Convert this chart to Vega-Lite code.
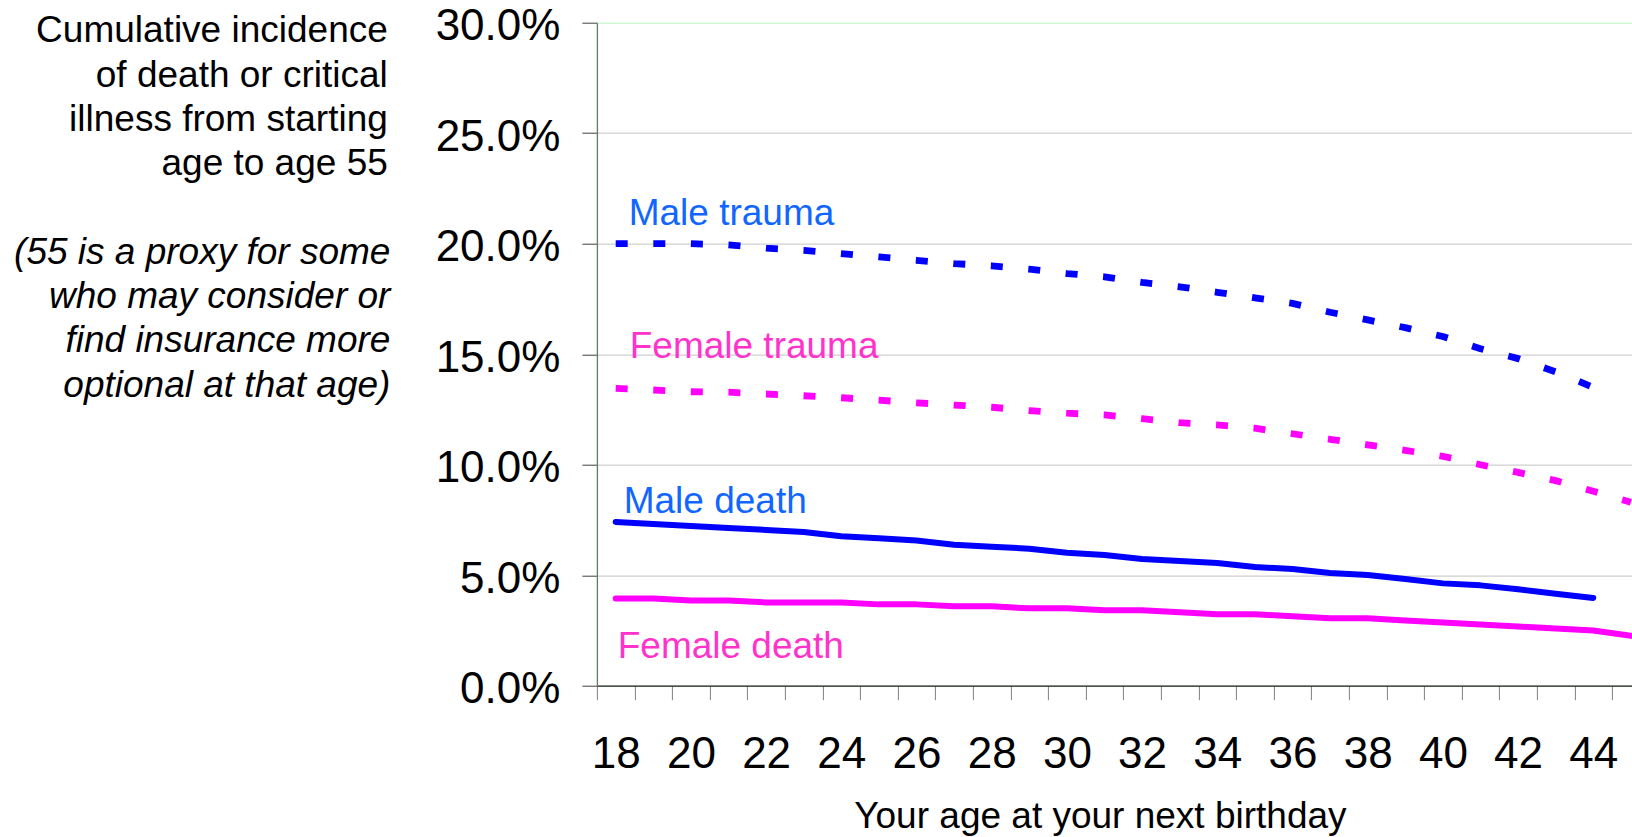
{
  "$schema": "https://vega.github.io/schema/vega-lite/v6.json",
  "width": 1035.1,
  "height": 663,
  "autosize": {"type": "none"},
  "padding": {"left": 596.9, "top": 22.7, "right": 0, "bottom": 151.3},
  "background": "white",
  "config": {"view": {"stroke": null}, "font": "Liberation Sans"},
  "datasets": {
    "lines": [
      {"age": 18, "series": "Male trauma", "value": 0.2000},
      {"age": 19, "series": "Male trauma", "value": 0.2000},
      {"age": 20, "series": "Male trauma", "value": 0.2000},
      {"age": 21, "series": "Male trauma", "value": 0.1995},
      {"age": 22, "series": "Male trauma", "value": 0.1980},
      {"age": 23, "series": "Male trauma", "value": 0.1970},
      {"age": 24, "series": "Male trauma", "value": 0.1955},
      {"age": 25, "series": "Male trauma", "value": 0.1940},
      {"age": 26, "series": "Male trauma", "value": 0.1925},
      {"age": 27, "series": "Male trauma", "value": 0.1910},
      {"age": 28, "series": "Male trauma", "value": 0.1900},
      {"age": 29, "series": "Male trauma", "value": 0.1885},
      {"age": 30, "series": "Male trauma", "value": 0.1865},
      {"age": 31, "series": "Male trauma", "value": 0.1850},
      {"age": 32, "series": "Male trauma", "value": 0.1825},
      {"age": 33, "series": "Male trauma", "value": 0.1805},
      {"age": 34, "series": "Male trauma", "value": 0.1780},
      {"age": 35, "series": "Male trauma", "value": 0.1755},
      {"age": 36, "series": "Male trauma", "value": 0.1730},
      {"age": 37, "series": "Male trauma", "value": 0.1690},
      {"age": 38, "series": "Male trauma", "value": 0.1655},
      {"age": 39, "series": "Male trauma", "value": 0.1620},
      {"age": 40, "series": "Male trauma", "value": 0.1580},
      {"age": 41, "series": "Male trauma", "value": 0.1525},
      {"age": 42, "series": "Male trauma", "value": 0.1480},
      {"age": 43, "series": "Male trauma", "value": 0.1420},
      {"age": 44, "series": "Male trauma", "value": 0.1350},
      {"age": 18, "series": "Female trauma", "value": 0.1345},
      {"age": 19, "series": "Female trauma", "value": 0.1338},
      {"age": 20, "series": "Female trauma", "value": 0.1330},
      {"age": 21, "series": "Female trauma", "value": 0.1328},
      {"age": 22, "series": "Female trauma", "value": 0.1320},
      {"age": 23, "series": "Female trauma", "value": 0.1312},
      {"age": 24, "series": "Female trauma", "value": 0.1303},
      {"age": 25, "series": "Female trauma", "value": 0.1292},
      {"age": 26, "series": "Female trauma", "value": 0.1280},
      {"age": 27, "series": "Female trauma", "value": 0.1270},
      {"age": 28, "series": "Female trauma", "value": 0.1260},
      {"age": 29, "series": "Female trauma", "value": 0.1245},
      {"age": 30, "series": "Female trauma", "value": 0.1233},
      {"age": 31, "series": "Female trauma", "value": 0.1225},
      {"age": 32, "series": "Female trauma", "value": 0.1208},
      {"age": 33, "series": "Female trauma", "value": 0.1190},
      {"age": 34, "series": "Female trauma", "value": 0.1180},
      {"age": 35, "series": "Female trauma", "value": 0.1165},
      {"age": 36, "series": "Female trauma", "value": 0.1140},
      {"age": 37, "series": "Female trauma", "value": 0.1115},
      {"age": 38, "series": "Female trauma", "value": 0.1090},
      {"age": 39, "series": "Female trauma", "value": 0.1065},
      {"age": 40, "series": "Female trauma", "value": 0.1038},
      {"age": 41, "series": "Female trauma", "value": 0.1000},
      {"age": 42, "series": "Female trauma", "value": 0.0965},
      {"age": 43, "series": "Female trauma", "value": 0.0928},
      {"age": 44, "series": "Female trauma", "value": 0.0880},
      {"age": 45, "series": "Female trauma", "value": 0.0830},
      {"age": 18, "series": "Male death", "value": 0.0741},
      {"age": 19, "series": "Male death", "value": 0.0732},
      {"age": 20, "series": "Male death", "value": 0.0723},
      {"age": 21, "series": "Male death", "value": 0.0714},
      {"age": 22, "series": "Male death", "value": 0.0705},
      {"age": 23, "series": "Male death", "value": 0.0695},
      {"age": 24, "series": "Male death", "value": 0.0676},
      {"age": 25, "series": "Male death", "value": 0.0667},
      {"age": 26, "series": "Male death", "value": 0.0657},
      {"age": 27, "series": "Male death", "value": 0.0638},
      {"age": 28, "series": "Male death", "value": 0.0629},
      {"age": 29, "series": "Male death", "value": 0.0620},
      {"age": 30, "series": "Male death", "value": 0.0602},
      {"age": 31, "series": "Male death", "value": 0.0591},
      {"age": 32, "series": "Male death", "value": 0.0573},
      {"age": 33, "series": "Male death", "value": 0.0564},
      {"age": 34, "series": "Male death", "value": 0.0555},
      {"age": 35, "series": "Male death", "value": 0.0537},
      {"age": 36, "series": "Male death", "value": 0.0528},
      {"age": 37, "series": "Male death", "value": 0.0510},
      {"age": 38, "series": "Male death", "value": 0.0501},
      {"age": 39, "series": "Male death", "value": 0.0483},
      {"age": 40, "series": "Male death", "value": 0.0463},
      {"age": 41, "series": "Male death", "value": 0.0454},
      {"age": 42, "series": "Male death", "value": 0.0436},
      {"age": 43, "series": "Male death", "value": 0.0416},
      {"age": 44, "series": "Male death", "value": 0.0397},
      {"age": 18, "series": "Female death", "value": 0.0395},
      {"age": 19, "series": "Female death", "value": 0.0395},
      {"age": 20, "series": "Female death", "value": 0.0386},
      {"age": 21, "series": "Female death", "value": 0.0386},
      {"age": 22, "series": "Female death", "value": 0.0377},
      {"age": 23, "series": "Female death", "value": 0.0377},
      {"age": 24, "series": "Female death", "value": 0.0377},
      {"age": 25, "series": "Female death", "value": 0.0368},
      {"age": 26, "series": "Female death", "value": 0.0368},
      {"age": 27, "series": "Female death", "value": 0.0359},
      {"age": 28, "series": "Female death", "value": 0.0359},
      {"age": 29, "series": "Female death", "value": 0.0350},
      {"age": 30, "series": "Female death", "value": 0.0350},
      {"age": 31, "series": "Female death", "value": 0.0341},
      {"age": 32, "series": "Female death", "value": 0.0341},
      {"age": 33, "series": "Female death", "value": 0.0332},
      {"age": 34, "series": "Female death", "value": 0.0323},
      {"age": 35, "series": "Female death", "value": 0.0323},
      {"age": 36, "series": "Female death", "value": 0.0314},
      {"age": 37, "series": "Female death", "value": 0.0305},
      {"age": 38, "series": "Female death", "value": 0.0305},
      {"age": 39, "series": "Female death", "value": 0.0295},
      {"age": 40, "series": "Female death", "value": 0.0286},
      {"age": 41, "series": "Female death", "value": 0.0277},
      {"age": 42, "series": "Female death", "value": 0.0268},
      {"age": 43, "series": "Female death", "value": 0.0259},
      {"age": 44, "series": "Female death", "value": 0.0250},
      {"age": 45, "series": "Female death", "value": 0.0226}
    ]
  },
  "data": {"name": "lines"},
  "encoding": {
    "x": {"field": "age", "type": "quantitative", "scale": {"domain": [17.5, 45.03], "nice": false, "zero": false}, "axis": null},
    "y": {
      "field": "value", "type": "quantitative",
      "scale": {"domain": [0, 0.3], "nice": false, "zero": true},
      "axis": {
        "values": [0, 0.05, 0.1, 0.15, 0.2, 0.25, 0.3],
        "format": ".1%",
        "labelFont": "Liberation Sans",
        "labelFontSize": 44,
        "labelColor": "black",
        "labelPadding": 22,
        "labelOffset": 4,
        "tickSize": 15,
        "tickColor": "#404040",
        "tickWidth": 1,
        "domainColor": "#5f7d5f",
        "domainWidth": 1.3,
        "grid": true,
        "gridColor": {"condition": {"test": "datum.value >= 0.29", "value": "#c6f5c6"}, "value": "#cfcfcf"},
        "gridWidth": 1.3,
        "title": ["Cumulative incidence", "of death or critical", "illness from starting", "age to age 55"],
        "titleFont": "Liberation Sans",
        "titleAngle": 0,
        "titleAlign": "right",
        "titleBaseline": "alphabetic",
        "titleX": -209.6,
        "titleY": 19,
        "titleFontSize": 37,
        "titleFontWeight": "normal",
        "titleLineHeight": 44.4,
        "titleColor": "black"
      }
    }
  },
  "layer": [
    {
      "transform": [{"filter": "indexof(datum.series, 'trauma') >= 0"}],
      "mark": {"type": "line", "strokeWidth": 6.8, "strokeDash": [12, 25.6], "strokeCap": "butt", "clip": true},
      "encoding": {
        "x": {
          "field": "age", "type": "quantitative",
          "scale": {"domain": [17.5, 45.03], "nice": false, "zero": false},
          "axis": {
            "orient": "bottom",
            "values": [18, 19, 20, 21, 22, 23, 24, 25, 26, 27, 28, 29, 30, 31, 32, 33, 34, 35, 36, 37, 38, 39, 40, 41, 42, 43, 44, 45],
            "format": "d",
            "tickOffset": -18.8,
            "labelOffset": 18.8,
            "labelExpr": "datum.value % 2 == 0 ? datum.label : ''",
            "labelOverlap": false,
            "labelFlush": false,
            "labelBound": false,
            "labelFont": "Liberation Sans",
            "labelFontSize": 44,
            "labelPadding": 33.2,
            "labelColor": "black",
            "tickSize": 14,
            "tickColor": "#808080",
            "tickWidth": 1,
            "domainColor": "#1a2a1a",
            "domainWidth": 1.3,
            "grid": false,
            "title": "Your age at your next birthday",
            "titleFont": "Liberation Sans",
            "titleFontSize": 37,
            "titleFontWeight": "normal",
            "titleColor": "black",
            "titleX": 503,
            "titleY": 142,
            "titleAlign": "center",
            "titleBaseline": "alphabetic"
          }
        },
        "color": {"field": "series", "type": "nominal", "scale": {"domain": ["Male trauma", "Female trauma", "Male death", "Female death"], "range": ["#0000ff", "#ff00ff", "#0000ff", "#ff00ff"]}, "legend": null}
      }
    },
    {
      "transform": [{"filter": "indexof(datum.series, 'death') >= 0"}],
      "mark": {"type": "line", "strokeWidth": 6, "strokeCap": "round", "strokeJoin": "round", "clip": true},
      "encoding": {
        "color": {"field": "series", "type": "nominal", "scale": {"domain": ["Male trauma", "Female trauma", "Male death", "Female death"], "range": ["#0000ff", "#ff00ff", "#0000ff", "#ff00ff"]}, "legend": null}
      }
    },
    {
      "transform": [{"filter": "datum.series == 'Male trauma' && datum.age == 18"}],
      "mark": {"type": "text", "align": "left", "baseline": "alphabetic", "fontSize": 37, "font": "Liberation Sans", "color": "#1166ff", "dx": 13, "dy": -18.7},
      "encoding": {
        "text": {"field": "series"},
        "x": {
          "field": "age", "type": "quantitative",
          "scale": {"domain": [17.5, 45.03], "nice": false, "zero": false},
          "axis": {
            "orient": "top",
            "domain": false,
            "ticks": false,
            "labels": false,
            "grid": false,
            "title": ["(55 is a proxy for some", "who may consider or", "find insurance more", "optional at that age)"],
            "titleFont": "Liberation Sans",
            "titleFontStyle": "italic",
            "titleFontSize": 37,
            "titleFontWeight": "normal",
            "titleColor": "black",
            "titleAngle": 0,
            "titleAlign": "right",
            "titleBaseline": "alphabetic",
            "titleX": -207,
            "titleY": 240.3,
            "titleLineHeight": 44.4
          }
        }
      }
    },
    {
      "transform": [{"filter": "datum.series == 'Female trauma' && datum.age == 18"}],
      "mark": {"type": "text", "align": "left", "baseline": "alphabetic", "fontSize": 37, "font": "Liberation Sans", "color": "#ff33cc", "dx": 14, "dy": -30.5},
      "encoding": {"text": {"field": "series"}}
    },
    {
      "transform": [{"filter": "datum.series == 'Male death' && datum.age == 18"}],
      "mark": {"type": "text", "align": "left", "baseline": "alphabetic", "fontSize": 37, "font": "Liberation Sans", "color": "#1166ff", "dx": 8, "dy": -9},
      "encoding": {"text": {"field": "series"}}
    },
    {
      "transform": [{"filter": "datum.series == 'Female death' && datum.age == 18"}],
      "mark": {"type": "text", "align": "left", "baseline": "alphabetic", "fontSize": 37, "font": "Liberation Sans", "color": "#ff33cc", "dx": 2, "dy": 59.6},
      "encoding": {"text": {"field": "series"}}
    }
  ],
  "resolve": {"axis": {"x": "independent"}}
}
